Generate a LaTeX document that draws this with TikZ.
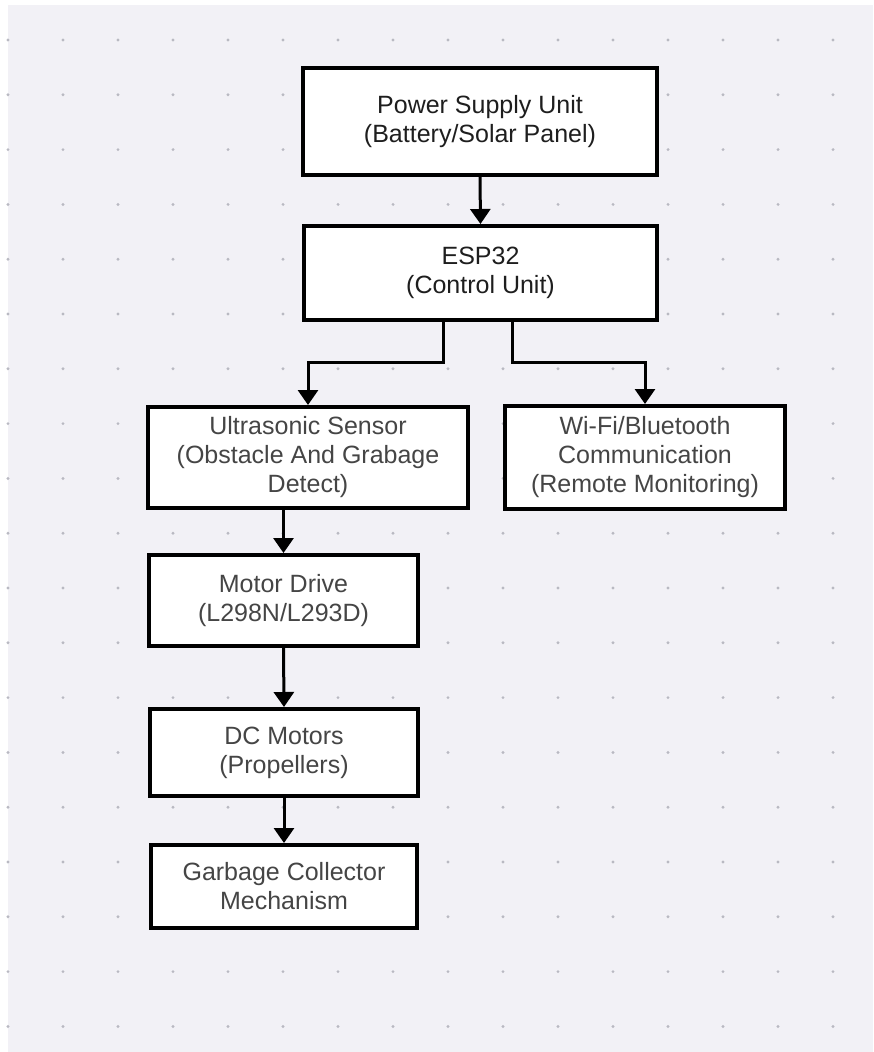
\documentclass[tikz,border=0pt]{standalone}
\usepackage{fontspec}
\setmainfont{Liberation Sans}
\usetikzlibrary{arrows.meta,calc}
\definecolor{bgc}{HTML}{F2F1F6}
\definecolor{dotc}{HTML}{B9B9C2}
\definecolor{txtdark}{HTML}{1E1E1E}
\definecolor{txtgray}{HTML}{454545}
\tikzset{
  blockbox/.style={draw=black, line width=4pt, fill=white, align=center, inner sep=0pt,
    font=\fontsize{25pt}{29pt}\selectfont, text=txtgray},
  topbox/.style={blockbox, text=txtdark},
  arr/.style={line width=3pt, draw=black, -{Triangle[length=15pt,width=20pt]}},
}
\begin{document}
\begin{tikzpicture}[x=1pt,y=-1pt]
\useasboundingbox (0,0) rectangle (873,1052);
\fill[white] (0,0) rectangle (873,1052);
\fill[bgc] (8,5) rectangle (873,1052);
\foreach \i in {0,...,15} {
  \foreach \j in {0,...,18} {
    \fill[dotc] ({8+55*\i},{40+54.8*\j}) circle (1.6);
  }
}
\node[topbox, minimum width=354pt, minimum height=107pt] (psu) at (480,121.5)
  {Power Supply Unit\\(Battery/Solar Panel)};
\node[topbox, minimum width=353pt, minimum height=94pt] (esp) at (480.5,273)
  {ESP32\\(Control Unit)};
\node[blockbox, minimum width=320pt, minimum height=101pt] (us) at (308,457.5)
  {Ultrasonic Sensor\\(Obstacle And Grabage\\Detect)};
\node[blockbox, minimum width=280pt, minimum height=103pt] (wifi) at (645,457.5)
  {Wi-Fi/Bluetooth\\Communication\\(Remote Monitoring)};
\node[blockbox, minimum width=269pt, minimum height=91pt] (md) at (283.5,600.5)
  {Motor Drive\\(L298N/L293D)};
\node[blockbox, minimum width=268pt, minimum height=87pt] (dc) at (284,752.5)
  {DC Motors\\(Propellers)};
\node[blockbox, minimum width=266pt, minimum height=83pt] (gc) at (284,886.5)
  {Garbage Collector\\Mechanism};
\draw[arr] (psu.south) -- (esp.north);
\draw[arr] ([xshift=-37.5pt]esp.south) -- ++(0,40) -| (us.north);
\draw[arr] ([xshift=31.5pt]esp.south) -- ++(0,40) -| (wifi.north);
\draw[arr] (us.south -| md.north) -- (md.north);
\draw[arr] (md.south) -- (dc.north);
\draw[arr] (dc.south) -- (gc.north);
\end{tikzpicture}
\end{document}
